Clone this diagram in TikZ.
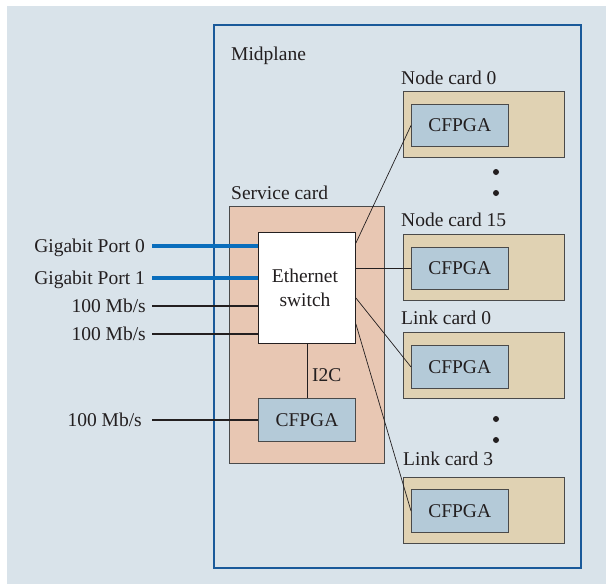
\documentclass[tikz,border=0pt]{standalone}
\usepackage{fontspec}
\setmainfont{Liberation Serif}
\definecolor{bgc}{HTML}{D9E3EA}
\definecolor{midc}{HTML}{1A5A9A}
\definecolor{tanc}{HTML}{E0D2B3}
\definecolor{salc}{HTML}{E8C7B3}
\definecolor{fpgac}{HTML}{B4CAD8}
\definecolor{portc}{HTML}{0A6EBD}
\definecolor{txtc}{HTML}{231F20}
\definecolor{edgec}{HTML}{4A4A4A}
\begin{document}
\begin{tikzpicture}[x=1pt,y=-1pt,
  every node/.style={text=txtc,font=\fontsize{19.5}{24}\selectfont},
  lbl/.style={anchor=base west,inner sep=0pt},
  lblr/.style={anchor=base east,inner sep=0pt},
  cardbox/.style={draw=edgec,fill=tanc,line width=0.8pt},
  fpgabox/.style={draw=edgec,fill=fpgac,line width=0.9pt},
  wire/.style={draw=txtc,line width=1.2pt},
  thin wire/.style={draw=txtc,line width=0.7pt},
  port/.style={draw=portc,line width=4pt},
  dotc/.style={fill=txtc,draw=none}]
\useasboundingbox (0,0) rectangle (606,584);
\fill[bgc] (7,6) rectangle (606,584);
% midplane
\draw[midc,line width=2.4pt] (214,25) rectangle (581,568);
\node[lbl] (midl) at (231,60.5) {Midplane};
% node/link cards
\draw[cardbox] (403,91) rectangle (564,157);
\node[fpgabox,minimum width=96.5pt,minimum height=42pt,anchor=north west] (c0) at (411,104) {CFPGA};
\node[lbl] (n0l) at (401,84) {Node card 0};
\draw[cardbox] (403,234) rectangle (564,300);
\node[fpgabox,minimum width=96.5pt,minimum height=42.5pt,anchor=north west] (c15) at (411,246.5) {CFPGA};
\node[lbl] (n15l) at (401,226.5) {Node card 15};
\draw[cardbox] (403,332) rectangle (564,398.5);
\node[fpgabox,minimum width=96.5pt,minimum height=43pt,anchor=north west] (l0) at (411,345) {CFPGA};
\node[lbl] (l0l) at (401,324.5) {Link card 0};
\draw[cardbox] (403,477) rectangle (564,543);
\node[fpgabox,minimum width=96.5pt,minimum height=43pt,anchor=north west] (l3) at (411,489) {CFPGA};
\node[lbl] (l3l) at (403,465.5) {Link card 3};
% dots
\fill[dotc] (496,172) circle (3pt) (496,193) circle (3pt);
\fill[dotc] (496,419) circle (3pt) (496,440) circle (3pt);
% service card
\draw[draw=edgec,fill=salc,line width=0.8pt] (229,206) rectangle (384,463);
\node[lbl] (scl) at (231,199) {Service card};
\node[draw=txtc,fill=white,line width=0.9pt,minimum width=97pt,minimum height=111pt,anchor=north west,inner sep=0pt] (sw) at (258,232) {};
\node[align=center,inner sep=0pt] (swt) at (305,288) {Ethernet\\switch};
\node[fpgabox,minimum width=97pt,minimum height=42.5pt,anchor=north west] (sc) at (258,398) {CFPGA};
\draw[wire,line width=0.9pt] (sw.south) -- (sw.south -| sc.north) -- (sc.north);
\node[lbl] (i2c) at (312,381.5) {I2C};
% ports
\coordinate (p0) at (152,246);
\coordinate (p1) at (152,278);
\coordinate (p2) at (152,306);
\coordinate (p3) at (152,334);
\coordinate (p4) at (152,420);
\draw[port] (p0) -- (p0 -| sw.west);
\draw[port] (p1) -- (p1 -| sw.west);
\draw[wire] (p2) -- (p2 -| sw.west);
\draw[wire] (p3) -- (p3 -| sw.west);
\draw[wire] (p4) -- (p4 -| sc.west);
\node[lblr] (gp0) at (145,252.5) {Gigabit Port 0};
\node[lblr] (gp1) at (145,284.5) {Gigabit Port 1};
\node[lblr] (m1) at (146,312.5) {100 Mb/s};
\node[lblr] (m2) at (146,340.5) {100 Mb/s};
\node[lblr] (m3) at (142,426.5) {100 Mb/s};
% switch to cards
\draw[thin wire] ([yshift=-11pt]sw.north east) -- (c0.west);
\draw[thin wire] (sw.east |- c15.west) -- (c15.west);
\draw[thin wire] ([yshift=-66pt]sw.north east) -- (l0.west);
\draw[thin wire] ([yshift=-92pt]sw.north east) -- (l3.west);
\end{tikzpicture}
\end{document}
